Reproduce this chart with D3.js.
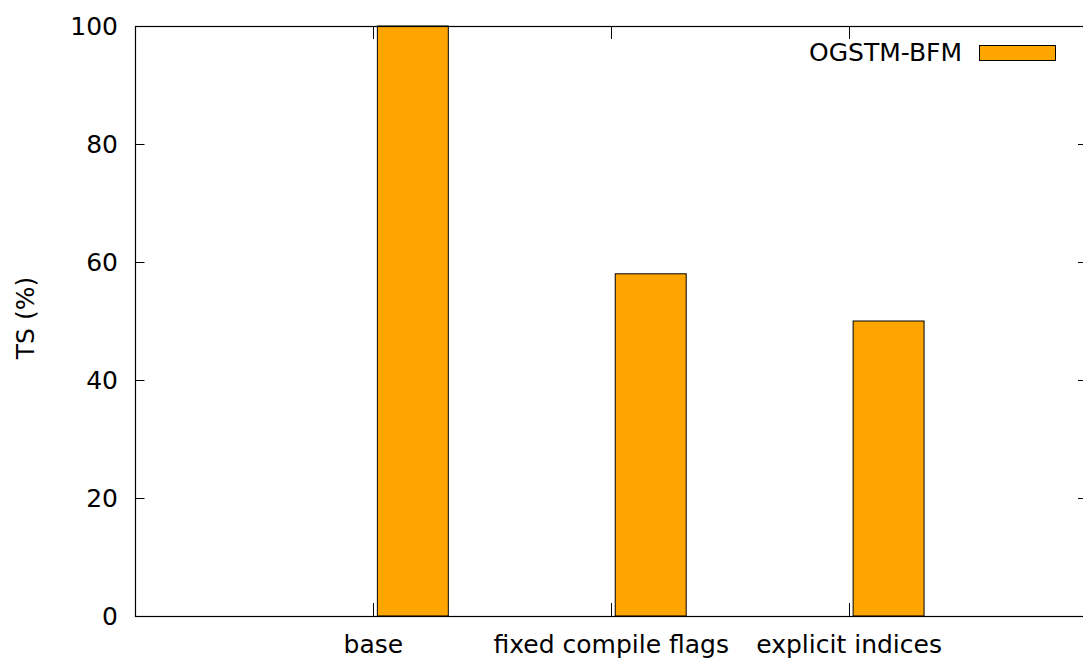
<!DOCTYPE html>
<html><head><meta charset="utf-8">
<script src="https://cdn.jsdelivr.net/npm/d3@7"></script>
<style>body{margin:0;background:#fff}svg{display:block}text{font-family:"DejaVu Sans",sans-serif;font-size:25px;fill:#000}</style>
</head><body>
<script>
const categories = ["base", "fixed compile flags", "explicit indices"];
const seriesName = "OGSTM-BFM";
const values = [100, 58, 50];
const yTicks = [0, 20, 40, 60, 80, 100];

const W = 1083, H = 662;
const m = {left: 135.5, top: 26, right: 1087, bottom: 616};
const svg = d3.select("body").append("svg").attr("width", W).attr("height", H);

const x = d3.scaleLinear().domain([-1, 3]).range([m.left, m.right]);
const y = d3.scaleLinear().domain([0, 100]).range([m.bottom, m.top]);

// bars
svg.selectAll("rect.bar").data(values).join("rect")
  .attr("x", (d, i) => x(i + 0.0168))
  .attr("width", (d, i) => x(i + 0.315) - x(i + 0.0168))
  .attr("y", d => y(d))
  .attr("height", d => y(0) - y(d))
  .attr("fill", "#FFA500").attr("stroke", "#000").attr("stroke-width", 1);

// ticks (inner, both sides)
const g = svg.append("g").attr("stroke", "#000").attr("stroke-width", 1);
yTicks.forEach(t => {
  const yy = Math.round(y(t)) + 0.5;
  g.append("line").attr("x1", m.left).attr("x2", m.left + 9).attr("y1", yy).attr("y2", yy);
  g.append("line").attr("x1", m.right).attr("x2", m.right - 9).attr("y1", yy).attr("y2", yy);
});
categories.forEach((c, i) => {
  const xx = Math.round(x(i)) + 0.5;
  g.append("line").attr("x1", xx).attr("x2", xx).attr("y1", m.bottom).attr("y2", m.bottom - 13);
  g.append("line").attr("x1", xx).attr("x2", xx).attr("y1", m.top).attr("y2", m.top + 13);
});

// border
svg.append("rect").attr("x", m.left).attr("y", m.top + 0.5)
  .attr("width", m.right - m.left).attr("height", m.bottom - m.top)
  .attr("fill", "none").attr("stroke", "#000").attr("stroke-width", 1.2);

// y tick labels
svg.selectAll("text.yt").data(yTicks).join("text")
  .attr("x", 118).attr("y", d => y(d) + 9).attr("text-anchor", "end").text(d => d);

// x tick labels
svg.selectAll("text.xt").data(categories).join("text")
  .attr("x", (d, i) => x(i)).attr("y", 653).attr("text-anchor", "middle").text(d => d);

// y label
svg.append("text").attr("transform", "translate(34,318) rotate(-90)")
  .attr("text-anchor", "middle").text("TS (%)");

// legend
svg.append("text").attr("x", 962).attr("y", 61).attr("text-anchor", "end").text(seriesName);
svg.append("rect").attr("x", 979.5).attr("y", 45.5).attr("width", 76).attr("height", 15)
  .attr("fill", "#FFA500").attr("stroke", "#000").attr("stroke-width", 1);
</script>
</body></html>
